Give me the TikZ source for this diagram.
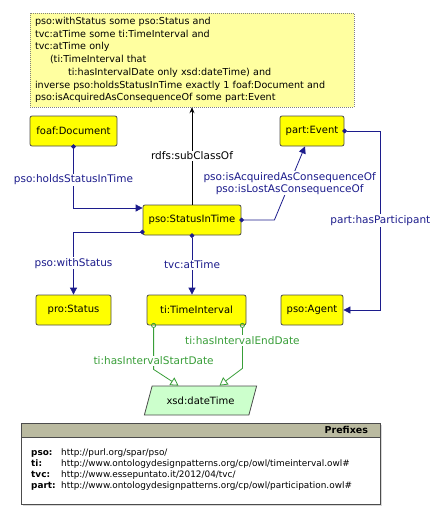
\documentclass[tikz,border=0pt]{standalone}
\usepackage{fontspec}
\setmainfont{DejaVu Sans}
\usetikzlibrary{positioning,shapes.geometric,arrows.meta,shadows}
\definecolor{clsyellow}{RGB}{255,255,0}
\definecolor{noteyellow}{RGB}{255,255,160}
\definecolor{objblue}{RGB}{28,28,140}
\definecolor{datagreen}{RGB}{56,158,56}
\definecolor{dtgreen}{RGB}{204,255,204}
\definecolor{pfxgray}{RGB}{186,186,160}

\begin{document}
\begin{tikzpicture}[
    x=1pt, y=-1pt,
    font=\fontsize{10.5}{12}\selectfont,
    owlclass/.style={draw=black!70, line width=0.8pt, fill=clsyellow, rounded corners=2pt, minimum height=30pt,
        inner sep=1pt, font=\fontsize{10}{12}\selectfont},
    datatype/.style={trapezium, trapezium left angle=67.5, trapezium right angle=112.5, trapezium stretches=true,
        draw=black!70, line width=0.8pt, fill=dtgreen, minimum width=113pt, minimum height=29pt,
        font=\fontsize{10}{12}\selectfont},
    note/.style={draw=black!50, dash pattern=on 1pt off 1pt, fill=noteyellow, text width=314pt, align=left,
        minimum height=94pt, inner xsep=5pt, font=\fontsize{9.6}{12.7}\selectfont},
    objprop/.style={draw=objblue, text=objblue, line width=0.8pt, shorten <=-2pt,
        {Circle[length=4.5pt]}-{Triangle[length=7pt,width=7pt]}},
    dataprop/.style={draw=datagreen, text=datagreen, line width=0.8pt, shorten <=-2.5pt,
        {Circle[open,length=5pt]}-{Triangle[open,length=8pt,width=9pt]}},
    subcls/.style={draw=black, line width=0.8pt, -{Stealth[length=6pt,width=5pt]}},
    lbl/.style={fill=white, inner sep=1pt}
]
    \useasboundingbox (0,0) rectangle (444,520);

    % class restriction note on top, classes on a loose grid below
    \node[note] (note) at (192,60) {pso:withStatus some pso:Status and\\
        tvc:atTime some ti:TimeInterval and\\
        tvc:atTime only\\
        \hspace*{15pt}(ti:TimeInterval that\\
        \hspace*{33pt}ti:hasIntervalDate only xsd:dateTime) and\\
        inverse pso:holdsStatusInTime exactly 1 foaf:Document and\\
        pso:isAcquiredAsConsequenceOf some part:Event};

    \node[owlclass, minimum width=87pt] (doc) at (73.5,131) {foaf:Document};
    \node[owlclass, minimum width=64pt] (ev) at (312,131) {part:Event};
    \node[owlclass, minimum width=98pt] (sit) at (192,220) {pso:StatusInTime};
    \node[owlclass, minimum width=75pt] (st) at (73.5,310) {pro:Status};
    \node[owlclass, minimum width=99pt] (ti) at (196.5,310) {ti:TimeInterval};
    \node[owlclass, minimum width=62pt] (ag) at (312,310) {pso:Agent};
    \node[datatype] (dt) at (200.5,400.5) {xsd:dateTime};

    \draw[subcls] (sit) -- node[lbl] {rdfs:subClassOf} (note);
    \draw[objprop] (doc.south) |- node[lbl, pos=0.27] {pso:holdsStatusInTime} ([yshift=12pt]sit.west);
    \draw[objprop] (sit.east) -- ++(33,0)
        -- node[lbl, align=center] {pso:isAcquiredAsConsequenceOf\\pso:isLostAsConsequenceOf} ([xshift=-7pt]ev.south);
    \draw[objprop] (ev.east) -- ++(36,0) |- node[lbl, pos=0.25] {part:hasParticipant} (ag.east);
    \draw[objprop] ([yshift=-12pt]sit.west) -| node[lbl, pos=0.75] {pso:withStatus} (st.north);
    \draw[objprop] (sit.south) -- node[lbl] {tvc:atTime} (sit.south |- ti.north);
    \draw[dataprop] ([xshift=7pt]ti.south west) -- node[lbl, pos=0.8] {ti:hasIntervalStartDate} ++(0,44)
        -- ([xshift=-22pt]dt.north);
    \draw[dataprop] ([xshift=-4pt]ti.south east) -- node[lbl, pos=0.35] {ti:hasIntervalEndDate} ++(0,43)
        -- ([xshift=19pt]dt.north);

    % prefixes box
    \node[draw=black!70, line width=0.8pt, fill=white, minimum width=359pt, minimum height=81pt,
        drop shadow={shadow xshift=2pt, shadow yshift=-2pt, fill=black!30}] (pfx) at (200.5,463.5) {};
    \node[draw=black!70, line width=0.8pt, fill=pfxgray, anchor=north, minimum height=14pt, inner ysep=0pt,
        inner xsep=12pt, text width=335pt, align=right, font=\fontsize{9.5}{11}\selectfont\bfseries]
        (pfxbar) at (pfx.north) {Prefixes};
    \node[anchor=north west, inner sep=0pt, font=\fontsize{8.9}{11}\selectfont] (pfxtab) at (31,448) {%
        \begin{tabular}{@{}p{30pt}@{}l@{}}
        \textbf{pso:} & http://purl.org/spar/pso/\\
        \textbf{ti:} & http://www.ontologydesignpatterns.org/cp/owl/timeinterval.owl\#\\
        \textbf{tvc:} & http://www.essepuntato.it/2012/04/tvc/\\
        \textbf{part:} & http://www.ontologydesignpatterns.org/cp/owl/participation.owl\#
        \end{tabular}};
\end{tikzpicture}
\end{document}
